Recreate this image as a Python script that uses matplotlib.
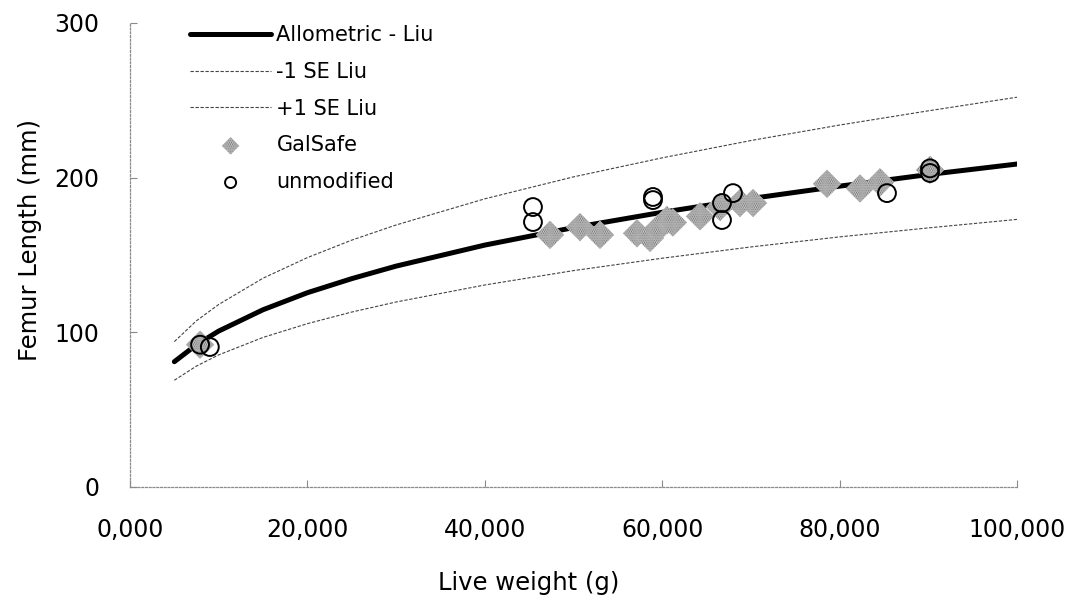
import numpy as np
import matplotlib
matplotlib.use('Agg')
import matplotlib.pyplot as plt

# allometric curve and +/- 1 SE bands (live weight in g, femur length in mm)
curve_w = [5000, 7500, 10000, 15000, 20000, 25000, 30000, 40000, 50000,
           60000, 70000, 80000, 90000, 100000]
allometric = [81, 92, 100.8, 114.6, 125.6, 134.7, 142.8, 156.4, 167.7,
              177.6, 186.5, 194.5, 202, 208.8]
se_minus = [69, 78.2, 85.4, 96.7, 105.6, 113.1, 119.6, 130.6, 139.9,
            147.9, 155.2, 161.7, 167.5, 173]
se_plus = [94, 107.5, 118, 135, 148.3, 159.6, 169.4, 186.3, 200.5,
           212.8, 224, 234, 243.2, 252]

# measured animals
galsafe_w = [7900, 47350, 50730, 52990, 57160, 58630, 59500, 60540, 61200,
             64260, 66520, 68770, 70240, 78580, 82300, 84560, 90190]
galsafe_len = [92, 163, 168, 163, 164, 161, 167, 172.6, 171,
               175, 181, 183.6, 183.6, 196, 193, 197, 205]
unmod_w = [7900, 9000, 45430, 45430, 58960, 58960, 66740, 66740, 67980,
           85340, 90190, 90190]
unmod_len = [92, 90.5, 181, 171.3, 187.5, 185.5, 183.6, 172.6, 190,
             190, 206, 203]

x_ticks = [0, 20000, 40000, 60000, 80000, 100000]
x_labels = ['0,000', '20,000', '40,000', '60,000', '80,000', '100,000']
y_ticks = [0, 100, 200, 300]

plt.rcParams['font.family'] = 'DejaVu Sans'
plt.rcParams['hatch.linewidth'] = 1.0

fig = plt.figure(figsize=(10.77, 6.03), dpi=100)
ax = fig.add_axes([0.1207, 0.1924, 0.8236, 0.7695])

ax.plot(curve_w, allometric, color='black', lw=3.6, solid_capstyle='round',
        label='Allometric - Liu', zorder=2)
ax.plot(curve_w, se_minus, color='#444444', lw=0.8, ls=(0, (3, 1.5)),
        label='-1 SE Liu', zorder=2)
ax.plot(curve_w, se_plus, color='#444444', lw=0.8, ls=(0, (3, 1.5)),
        label='+1 SE Liu', zorder=2)
ax.scatter(galsafe_w, galsafe_len, marker='D', s=210, facecolor='white',
           edgecolor='#555555', linewidth=0, hatch='.........',
           label='GalSafe', zorder=3)
ax.scatter(unmod_w, unmod_len, marker='o', s=165, facecolor='none',
           edgecolor='black', linewidth=1.4, label='unmodified', zorder=4)

ax.set_xlim(0, 100000)
ax.set_ylim(0, 300)
ax.set_xticks(x_ticks)
ax.set_xticklabels(x_labels)
ax.set_yticks(y_ticks)

for side in ['top', 'right']:
    ax.spines[side].set_visible(False)
for side in ['left', 'bottom']:
    ax.spines[side].set_color('#8a8a8a')
    ax.spines[side].set_linewidth(0.9)
    ax.spines[side].set_linestyle((0, (1.5, 1.5)))

ax.tick_params(direction='in', length=5, width=0.8, color='#8a8a8a',
               labelsize=17, pad=22)

ax.set_xlabel('Live weight (g)', fontsize=17.5)
ax.set_ylabel('Femur Length (mm)', fontsize=17.5)
ax.yaxis.set_label_coords(-0.099, 0.532)
ax.xaxis.set_label_coords(0.45, -0.18)

ax.legend(loc='upper left', bbox_to_anchor=(0.0676, 0.995), frameon=False,
          fontsize=15, handlelength=3.9, handletextpad=0.25,
          labelspacing=0.8, borderpad=0, borderaxespad=0, markerscale=0.62)

fig.savefig('out.png', dpi=100)
